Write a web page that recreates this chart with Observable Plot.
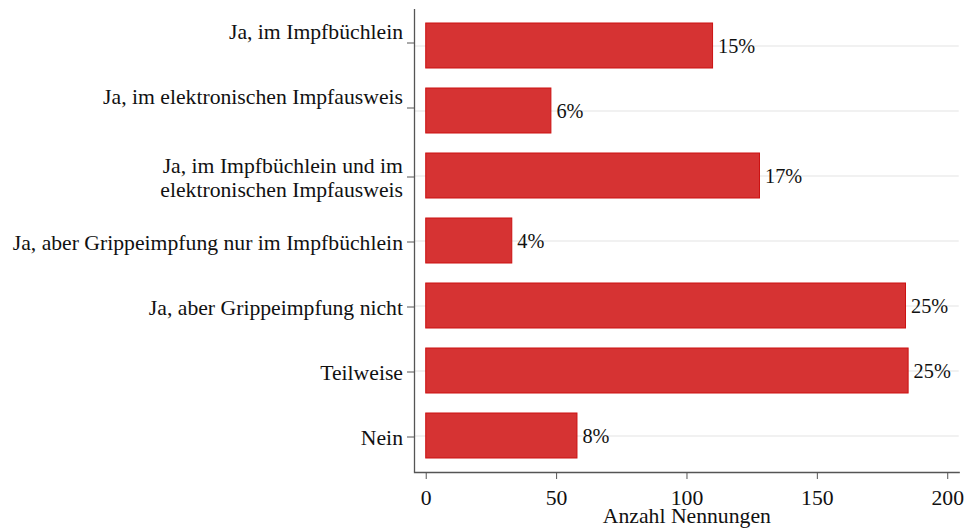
<!DOCTYPE html>
<html>
<head>
<meta charset="utf-8">
<script src="https://cdn.jsdelivr.net/npm/d3@7"></script>
<script src="https://cdn.jsdelivr.net/npm/@observablehq/plot@0.6"></script>
<style>
  html, body { margin: 0; padding: 0; background: #fff; }
  #chart svg { display: block; }
</style>
</head>
<body>
<div id="chart"></div>
<script>
const categories = [
  "Ja, im Impfbüchlein",
  "Ja, im elektronischen Impfausweis",
  "Ja, im Impfbüchlein und im elektronischen Impfausweis",
  "Ja, aber Grippeimpfung nur im Impfbüchlein",
  "Ja, aber Grippeimpfung nicht",
  "Teilweise",
  "Nein"
];
const tickLabels = [
  "Ja, im Impfbüchlein\n",
  "Ja, im elektronischen Impfausweis\n",
  "Ja, im Impfbüchlein und im\nelektronischen Impfausweis",
  "Ja, aber Grippeimpfung nur im Impfbüchlein",
  "Ja, aber Grippeimpfung nicht",
  "Teilweise",
  "Nein"
];
const counts = [110, 48, 128, 33, 184, 185, 58];
const pctLabels = ["15%", "6%", "17%", "4%", "25%", "25%", "8%"];
const xTicks = [0, 50, 100, 150, 200];
const xTitle = "Anzahl Nennungen";

const data = categories.map((c, i) => ({cat: c, n: counts[i], pct: pctLabels[i]}));
const font = "Liberation Serif";
const fs = 21.7;
const raised = categories.filter((c, i) => tickLabels[i].endsWith("\n"));
const normal = categories.filter((c, i) => !tickLabels[i].endsWith("\n"));
const yAxisOpts = {
  tickSize: 7, tickPadding: 4.5, stroke: "#555", fontSize: fs, fontFamily: font, lineHeight: 1.1,
  tickFormat: d => tickLabels[categories.indexOf(d)], label: null
};

const chart = Plot.plot({
  width: 968,
  height: 528,
  marginLeft: 414,
  marginRight: 9.3,
  marginTop: 9,
  marginBottom: 56,
  style: {color: "#111", background: "#fff", fontFamily: font},
  x: {domain: [-4.5, 204.4]},
  y: {domain: categories, paddingInner: 0.31, paddingOuter: 0.18},
  marks: [
    Plot.gridY({stroke: "#ececec", strokeOpacity: 1, strokeWidth: 1.5}),
    Plot.barX(data, {x: "n", y: "cat", fill: "#d63333", stroke: "#cc1111", strokeWidth: 1}),
    Plot.text(data, {x: "n", y: "cat", text: "pct", textAnchor: "start", dx: 5, dy: 0.5, fontSize: 20.3, fontFamily: font, fill: "#111"}),
    Plot.ruleX([-4.5], {stroke: "#555", strokeWidth: 1.3}),
    Plot.frame({anchor: "bottom", stroke: "#555", strokeWidth: 1.3}),
    Plot.axisY({...yAxisOpts, ticks: raised, dy: -3}),
    Plot.axisY({...yAxisOpts, ticks: normal, dy: 1}),
    Plot.axisX({
      ticks: xTicks, tickSize: 7, tickPadding: 10, stroke: "#555", fontSize: fs, fontFamily: font, label: null
    }),
    Plot.text([xTitle], {frameAnchor: "bottom", lineAnchor: "middle", dy: 44, fontSize: fs, fontFamily: font, fill: "#111"})
  ]
});
document.getElementById("chart").appendChild(chart);
</script>
</body>
</html>
